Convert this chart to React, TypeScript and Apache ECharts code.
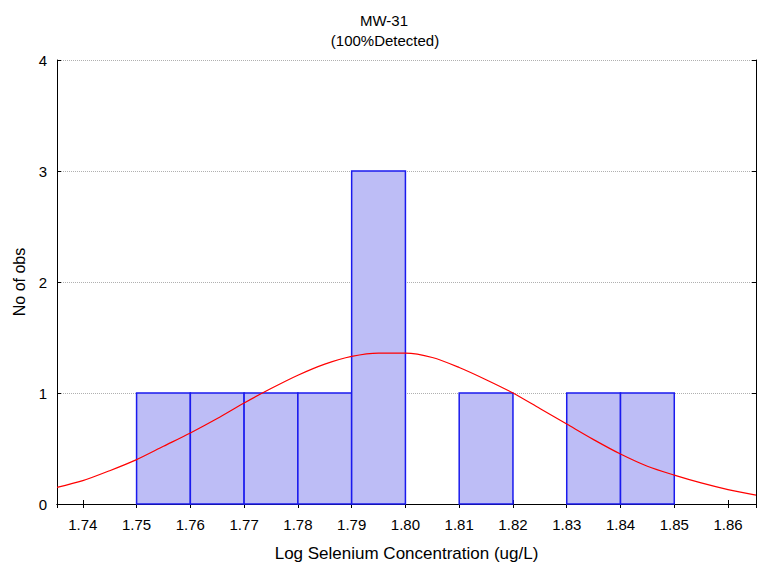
import React, { useEffect, useRef } from "react";
import * as echarts from "echarts";

const titleLines = ["MW-31", "(100%Detected)"];
const xAxisName = "Log Selenium Concentration (ug/L)";
const yAxisName = "No of obs";

const binStarts = [1.75, 1.76, 1.77, 1.78, 1.79, 1.8, 1.81, 1.82, 1.83, 1.84];
const binEnds = [1.76, 1.77, 1.78, 1.79, 1.8, 1.81, 1.82, 1.83, 1.84, 1.85];
const binCounts = [1, 1, 1, 1, 3, 0, 1, 0, 1, 1];

const curveX = [1.7352, 1.74, 1.745, 1.75, 1.755, 1.76, 1.765, 1.77, 1.775, 1.78, 1.785, 1.79, 1.795, 1.8, 1.805, 1.81, 1.815, 1.82, 1.825, 1.83, 1.835, 1.84, 1.845, 1.85, 1.855, 1.86, 1.8652];
const curveY = [0.15, 0.21, 0.3, 0.4, 0.52, 0.64, 0.77, 0.91, 1.04, 1.16, 1.26, 1.33, 1.36, 1.36, 1.32, 1.23, 1.12, 1.0, 0.86, 0.72, 0.58, 0.45, 0.34, 0.26, 0.19, 0.13, 0.08];

const xMin = 1.7352;
const xMax = 1.8652;

export default function App() {
  const ref = useRef<HTMLDivElement>(null);
  useEffect(() => {
    if (!ref.current) return;
    const chart = echarts.init(ref.current, undefined, { renderer: "svg" });
    const font = "Liberation Sans, Arial, sans-serif";
    const fmt = (v: number) =>
      Math.abs(v * 100 - Math.round(v * 100)) < 1e-6 ? v.toFixed(2) : "";
    const xCommon = {
      type: "value" as const,
      min: xMin,
      max: xMax,
      splitNumber: 13,
      axisLine: { show: true, lineStyle: { color: "#000", width: 1 } },
      axisTick: { show: true, inside: true, length: 4, lineStyle: { color: "#000" } },
      splitLine: { show: false },
    };
    chart.setOption({
      animation: false,
      backgroundColor: "#fff",
      grid: { left: 57, right: 2, top: 60, bottom: 61 },
      graphic: [
        {
          type: "text",
          x: 384,
          y: 20,
          style: { text: titleLines[0], font: `15px ${font}`, fill: "#000", textAlign: "center", textVerticalAlign: "middle" },
        },
        {
          type: "text",
          x: 385,
          y: 40,
          style: { text: titleLines[1], font: `15px ${font}`, fill: "#000", textAlign: "center", textVerticalAlign: "middle" },
        },
      ],
      xAxis: [
        {
          ...xCommon,
          position: "bottom",
          name: xAxisName,
          nameLocation: "middle",
          nameGap: 41,
          nameTextStyle: { fontFamily: font, fontSize: 17, color: "#000" },
          axisLabel: { formatter: fmt, fontFamily: font, fontSize: 15, color: "#000", margin: 13 },
        },
        {
          ...xCommon,
          position: "top",
          axisLabel: { show: false },
        },
      ],
      yAxis: [
        {
          type: "value",
          min: 0,
          max: 4,
          interval: 1,
          position: "left",
          name: yAxisName,
          nameLocation: "middle",
          nameGap: 29,
          nameTextStyle: { fontFamily: font, fontSize: 16, color: "#000" },
          axisLine: { show: true, lineStyle: { color: "#000" } },
          axisTick: { show: true, inside: true, length: 4, lineStyle: { color: "#000" } },
          axisLabel: { fontFamily: font, fontSize: 15, color: "#000", margin: 10 },
          splitLine: { show: true, lineStyle: { color: "#b0b0b0", type: "dotted", width: 1 } },
        },
        {
          type: "value",
          min: 0,
          max: 4,
          interval: 1,
          position: "right",
          axisLine: { show: true, lineStyle: { color: "#000" } },
          axisTick: { show: true, inside: true, length: 4, lineStyle: { color: "#000" } },
          axisLabel: { show: false },
          splitLine: { show: false },
        },
      ],
      series: [
        {
          type: "custom",
          xAxisIndex: 0,
          yAxisIndex: 0,
          data: binStarts.map((s, i) => [s, binEnds[i], binCounts[i]]),
          renderItem: (params: any, api: any) => {
            const c = api.value(2);
            if (!c) return null;
            const p0 = api.coord([api.value(0), 0]);
            const p1 = api.coord([api.value(1), c]);
            return {
              type: "rect",
              shape: { x: p0[0], y: p1[1], width: p1[0] - p0[0], height: p0[1] - p1[1] },
              style: { fill: "#bdbdf6", stroke: "#1a1aee", lineWidth: 1.5 },
            };
          },
          z: 2,
        },
        {
          type: "line",
          xAxisIndex: 0,
          yAxisIndex: 0,
          data: curveX.map((x, i) => [x, curveY[i]]),
          smooth: 0.3,
          showSymbol: false,
          symbol: "none",
          lineStyle: { color: "#ff0000", width: 1.2 },
          z: 3,
        },
      ],
    });
    return () => chart.dispose();
  }, []);
  return (
    <div
      ref={ref}
      style={{ position: "fixed", left: 0, top: 0, width: 759, height: 567 }}
    />
  );
}
